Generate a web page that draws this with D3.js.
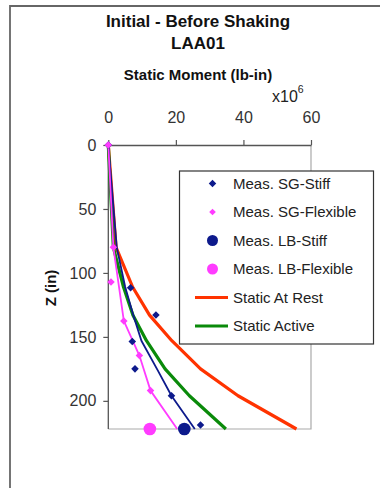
<!DOCTYPE html>
<html>
<head>
<meta charset="utf-8">
<script src="https://cdn.jsdelivr.net/npm/d3@7"></script>
<style>
  body { margin: 0; background: #fff; }
  svg { display: block; font-family: "Liberation Sans", Arial, sans-serif; }
</style>
</head>
<body>
<svg width="380" height="488"></svg>
<script>
// moment values in units of 1e6 lb-in, depth Z in inches
const sgStiffX = [0, 6.6, 14.1, 7.1, 7.9, 18.7, 27.3];
const sgStiffZ = [0, 111.5, 132.8, 153.6, 175, 196, 218.8];
const sgFlexX = [0, 1.5, 0.8, 4.6, 9.2, 12.5];
const sgFlexZ = [0, 80, 107, 137.5, 164.6, 192];
const lbStiffX = [22.5];
const lbStiffZ = [222];
const lbFlexX = [12.3];
const lbFlexZ = [222];
const stiffFitX = [0, 2.5, 5, 7.4, 9.8, 14.8, 18.7, 25.6];
const stiffFitZ = [0, 80, 111, 133, 153, 177, 196, 222];
const flexFitX = [0, 1.5, 4.6, 9.2, 12.5, 20.4];
const flexFitZ = [0, 80, 137.5, 164.6, 192, 222];
const atRestX = [0, 2.3, 7.2, 12.2, 18.8, 27.3, 38.4, 55.7];
const atRestZ = [0, 80, 111, 133, 153, 175, 196, 222];
const activeX = [0, 1.5, 4.5, 7.3, 11.3, 16.8, 24, 34.8];
const activeZ = [0, 80, 111, 133, 153, 175, 196, 222];
const xTicks = [0, 20, 40, 60];
const zTicks = [0, 50, 100, 150, 200];
const legendNames = ['Meas. SG-Stiff', 'Meas. SG-Flexible', 'Meas. LB-Stiff', 'Meas. LB-Flexible', 'Static At Rest', 'Static Active'];

const navy = '#0d1a8c', pink = '#ff3cff', red = '#ff3300', green = '#0a8a0a';
const zip = (xs, zs) => xs.map((v, i) => [v, zs[i]]);

const svg = d3.select('svg');
const x = d3.scaleLinear().domain([0, 60]).range([108.3, 311]);
const y = d3.scaleLinear().domain([0, 222]).range([145, 429]);

// outer frame
svg.append('path').attr('d', 'M10,490V6H382').attr('fill', 'none')
    .attr('stroke', '#666').attr('stroke-width', 1.8);

// titles
const title = svg.append('g').attr('text-anchor', 'middle').attr('font-weight', 'bold').attr('fill', '#111');
title.append('text').attr('x', 198).attr('y', 27).attr('font-size', 17).text('Initial - Before Shaking');
title.append('text').attr('x', 198).attr('y', 48.5).attr('font-size', 17).text('LAA01');
title.append('text').attr('x', 198).attr('y', 79.5).attr('font-size', 15).text('Static Moment (lb-in)');
const mult = svg.append('text').attr('x', 272).attr('y', 102).attr('font-size', 16).attr('fill', '#222');
mult.append('tspan').text('x10');
mult.append('tspan').attr('dy', -9).attr('font-size', 10.5).text('6');

svg.append('text').attr('transform', 'translate(56,288) rotate(-90)')
    .attr('text-anchor', 'middle').attr('font-weight', 'bold').attr('font-size', 15)
    .attr('fill', '#111').text('Z (in)');

// plot frame (right, bottom)
svg.append('path').attr('d', `M${x(60)},${y(0)}V${y(222)}H${x(0)}`)
    .attr('fill', 'none').attr('stroke', '#aaa').attr('stroke-width', 1.2);

const xAxis = svg.append('g').attr('transform', `translate(0,${y(0)})`)
    .call(d3.axisTop(x).tickValues(xTicks).tickSize(5).tickSizeOuter(0).tickPadding(17));
const yAxis = svg.append('g').attr('transform', `translate(${x(0)},0)`)
    .call(d3.axisLeft(y).tickValues(zTicks).tickSize(5).tickSizeOuter(0).tickPadding(7));
[xAxis, yAxis].forEach(a => {
  a.select('.domain').attr('stroke', '#555').attr('stroke-width', 1.3);
  a.selectAll('.tick line').attr('stroke', '#555').attr('stroke-width', 1.2);
  a.selectAll('.tick text').attr('font-size', 16).attr('fill', '#333')
      .attr('font-family', '"Liberation Sans", Arial, sans-serif');
});
yAxis.select('.domain').attr('d', `M0,${y(0)}V${y(222)}`);

const line = d3.line().x(d => x(d[0])).y(d => y(d[1]));
const drawLine = (pts, color, w) => svg.append('path').datum(pts).attr('d', line)
    .attr('fill', 'none').attr('stroke', color).attr('stroke-width', w).attr('stroke-linejoin', 'round');

drawLine(zip(atRestX, atRestZ), red, 3.2);
drawLine(zip(activeX, activeZ), green, 3.2);
drawLine(zip(stiffFitX, stiffFitZ), navy, 1.8);
drawLine(zip(flexFitX, flexFitZ), pink, 1.8);

const diamond = d3.symbol().type(d3.symbolDiamond2).size(36);
const drawDiamonds = (pts, color) => svg.append('g').selectAll('path').data(pts).join('path')
    .attr('d', diamond).attr('transform', d => `translate(${x(d[0])},${y(d[1])})`).attr('fill', color);
drawDiamonds(zip(sgStiffX, sgStiffZ), navy);
drawDiamonds(zip(sgFlexX, sgFlexZ), pink);

const drawCircles = (pts, color) => svg.append('g').selectAll('circle').data(pts).join('circle')
    .attr('cx', d => x(d[0])).attr('cy', d => y(d[1])).attr('r', 6.3).attr('fill', color);
drawCircles(zip(lbFlexX, lbFlexZ), pink);
drawCircles(zip(lbStiffX, lbStiffZ), navy);

// legend
const lg = svg.append('g');
lg.append('rect').attr('x', 179.5).attr('y', 171).attr('width', 194).attr('height', 173)
    .attr('fill', '#fff').attr('stroke', '#333').attr('stroke-width', 1.2);
const kinds = ['d', 'd', 'c', 'c', 'l', 'l'];
const colors = [navy, pink, navy, pink, red, green];
legendNames.forEach((name, i) => {
  const cy = 183.5 + i * 28.5;
  if (kinds[i] === 'd') {
    lg.append('path').attr('d', d3.symbol().type(d3.symbolDiamond2).size(i === 1 ? 28 : 36))
        .attr('transform', `translate(212.5,${cy})`).attr('fill', colors[i]);
  } else if (kinds[i] === 'c') {
    lg.append('circle').attr('cx', 212.5).attr('cy', cy).attr('r', 5.5).attr('fill', colors[i]);
  } else {
    lg.append('line').attr('x1', 195).attr('x2', 228).attr('y1', cy).attr('y2', cy)
        .attr('stroke', colors[i]).attr('stroke-width', 3.2);
  }
  lg.append('text').attr('x', 233).attr('y', cy + 5.3).attr('font-size', 15)
      .attr('fill', '#222').text(name);
});
</script>
</body>
</html>
